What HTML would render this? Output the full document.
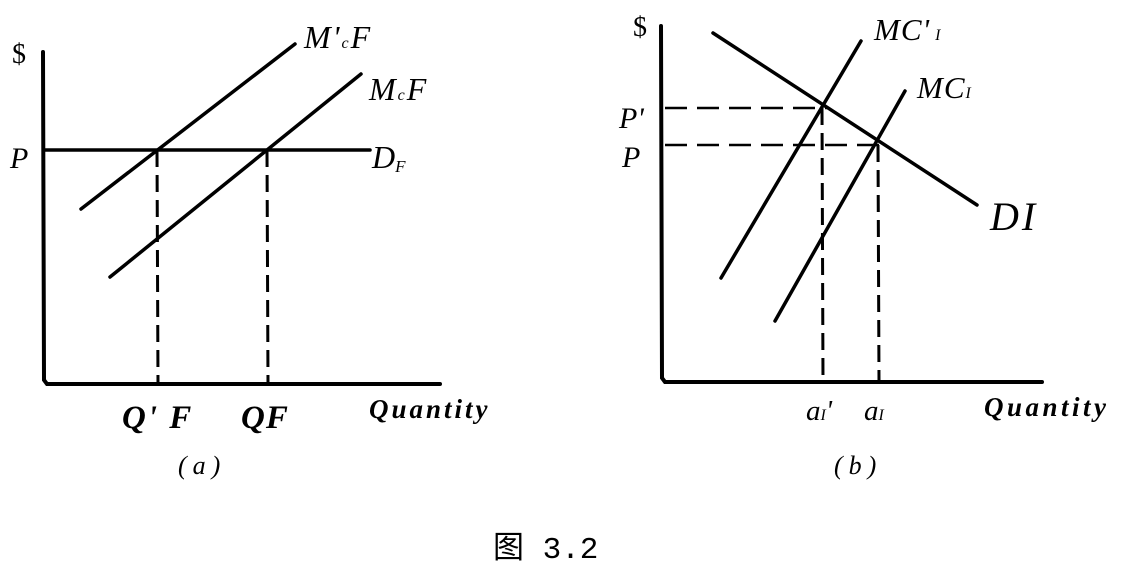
<!DOCTYPE html>
<html><head><meta charset="utf-8"><style>
html,body{margin:0;padding:0;background:#fff;}
svg{display:block;}
text{font-family:"Liberation Serif","Noto Serif CJK SC",serif;fill:#000;}
</style></head><body>
<svg width="1136" height="564" viewBox="0 0 1136 564" xmlns="http://www.w3.org/2000/svg">
<g stroke="#000" fill="none" stroke-linecap="round">
<path d="M43 52 L44 380 L47 384 L440 384" stroke-width="4"/>
<line x1="45" y1="150" x2="370" y2="150" stroke-width="3.5"/>
<line x1="81" y1="209" x2="295" y2="44" stroke-width="3.5"/>
<line x1="110" y1="277" x2="361" y2="74" stroke-width="3.5"/>
<line x1="157" y1="150" x2="158" y2="384" stroke-width="3" stroke-dasharray="17,8" stroke-linecap="butt"/>
<line x1="267" y1="150" x2="268" y2="384" stroke-width="3" stroke-dasharray="17,8" stroke-linecap="butt"/>
<path d="M661 26 L662 378 L665 382 L1042 382" stroke-width="4"/>
<line x1="713" y1="33" x2="977" y2="205" stroke-width="3.5"/>
<line x1="721" y1="278" x2="861" y2="41" stroke-width="3.5"/>
<line x1="775" y1="321" x2="905" y2="91" stroke-width="3.5"/>
<line x1="665" y1="108" x2="828" y2="108" stroke-width="2.5" stroke-dasharray="22,10" stroke-linecap="butt"/>
<line x1="665" y1="145" x2="883" y2="145" stroke-width="2.5" stroke-dasharray="22,10" stroke-linecap="butt"/>
<line x1="822" y1="108" x2="823" y2="382" stroke-width="3" stroke-dasharray="17,8" stroke-linecap="butt"/>
<line x1="878" y1="145" x2="879" y2="382" stroke-width="3" stroke-dasharray="17,8" stroke-linecap="butt"/>
</g>
<g font-style="italic">
<text x="12" y="63" font-size="28" font-style="normal">$</text>
<text x="10" y="168" font-size="30">P</text>
<text x="304" y="48" font-size="32" letter-spacing="2">M'<tspan font-size="16">c</tspan>F</text>
<text x="369" y="100" font-size="32" letter-spacing="2">M<tspan font-size="16">c</tspan>F</text>
<text x="372" y="168" font-size="32">D<tspan font-size="17" dy="4">F</tspan></text>
<text x="122" y="428" font-size="33" font-weight="bold" letter-spacing="2">Q' F</text>
<text x="241" y="428" font-size="33" font-weight="bold" letter-spacing="1">QF</text>
<text x="369" y="418" font-size="27" font-weight="bold" letter-spacing="3">Quantity</text>
<text x="178" y="474" font-size="26" letter-spacing="6">(a)</text>
<text x="633" y="36" font-size="28" font-style="normal">$</text>
<text x="874" y="40" font-size="31" letter-spacing="1">MC'<tspan font-size="16"> I</tspan></text>
<text x="917" y="98" font-size="31" letter-spacing="1">MC<tspan font-size="16">I</tspan></text>
<text x="619" y="128" font-size="30">P'</text>
<text x="622" y="167" font-size="30">P</text>
<text x="990" y="230" font-size="40" letter-spacing="3">DI</text>
<text x="806" y="420" font-size="29">a<tspan font-size="16">I</tspan>'</text>
<text x="864" y="420" font-size="29">a<tspan font-size="16">I</tspan></text>
<text x="984" y="416" font-size="27" font-weight="bold" letter-spacing="3.5">Quantity</text>
<text x="834" y="474" font-size="26" letter-spacing="6">(b)</text>
</g>
<text x="493" y="558" font-size="31" style="font-family:'Liberation Mono','Noto Sans CJK SC',monospace">图 3.2</text>
</svg>
</body></html>
